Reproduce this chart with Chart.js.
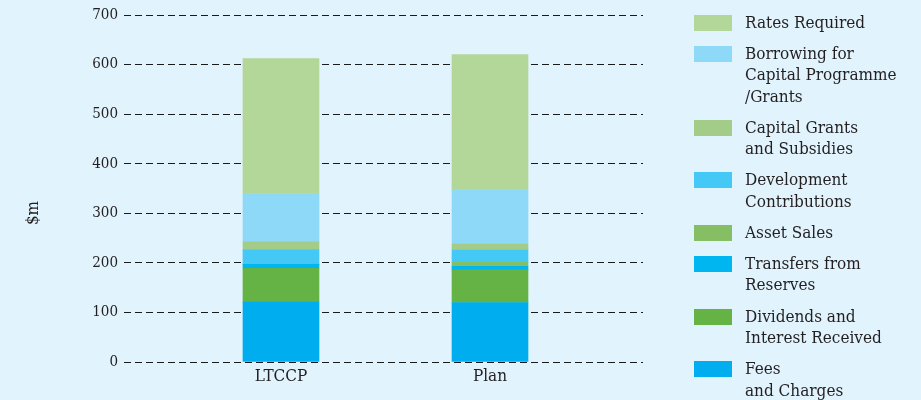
<!DOCTYPE html>
<html>
<head>
<meta charset="utf-8">
<script src="https://cdn.jsdelivr.net/npm/chart.js@4/dist/chart.umd.min.js"></script>
<style>
  html, body { margin: 0; padding: 0; background: #e1f3fd; }
  #wrap { position: relative; width: 921px; height: 400px; overflow: hidden; }
  #c { position: absolute; left: 0; top: 0; }
  #legend {
    position: absolute; left: 694px; top: 11.5px; margin: 0; padding: 0; list-style: none;
    font-family: "DejaVu Serif Condensed", "DejaVu Serif", serif;
    font-size: 17px; line-height: 21.5px; color: #231f20;
  }
  #legend li { position: relative; padding-left: 51px; margin-bottom: 9.6px; white-space: pre-line; }
  #legend .sw { position: absolute; left: 0; top: 3px; width: 38px; height: 16px; }
</style>
</head>
<body>
<div id="wrap">
  <canvas id="c" width="921" height="400"></canvas>
  <ul id="legend"></ul>
</div>
<script>
// Funding sources, $m, stacked bottom to top
const categories = ['LTCCP', 'Plan'];
const seriesNames = [
  'Fees\nand Charges',
  'Dividends and\nInterest Received',
  'Transfers from\nReserves',
  'Asset Sales',
  'Development\nContributions',
  'Capital Grants\nand Subsidies',
  'Borrowing for\nCapital Programme\n/Grants',
  'Rates Required'
];
const feesAndCharges      = [121, 120];
const dividendsInterest   = [68, 66];
const transfersReserves   = [8, 7];
const assetSales          = [1, 8];
const developmentContrib  = [29, 25];
const capitalGrants       = [16, 12];
const borrowing           = [97, 110];
const ratesRequired       = [272, 272];
const yTicks = [0, 100, 200, 300, 400, 500, 600, 700];
const yAxisTitle = '$m';

const seriesValues = [feesAndCharges, dividendsInterest, transfersReserves, assetSales,
                      developmentContrib, capitalGrants, borrowing, ratesRequired];
const seriesColors = ['#00aeef', '#65b345', '#00b6f0', '#86bf63',
                      '#44c8f5', '#a4cc89', '#8ed8f8', '#b3d699'];

const FONT = '"DejaVu Serif Condensed", "DejaVu Serif", serif';
const INK = '#231f20';
Chart.defaults.font.family = FONT;
Chart.defaults.color = INK;

const datasets = seriesValues.map((vals, i) => ({
  label: seriesNames[i],
  data: vals.map((v, j) => ({ x: j, y: v })),
  backgroundColor: seriesColors[i],
  borderWidth: 0,
  barThickness: 76
}));

// Rotated unit label on the left, a little below the plot's middle
const unitLabel = {
  id: 'unitLabel',
  afterDraw(chart) {
    const ctx = chart.ctx;
    ctx.save();
    ctx.translate(34, 213);
    ctx.rotate(-Math.PI / 2);
    ctx.font = '17px ' + FONT;
    ctx.fillStyle = INK;
    ctx.textAlign = 'center';
    ctx.textBaseline = 'middle';
    ctx.fillText(yAxisTitle, 0, 0);
    ctx.restore();
  }
};

new Chart(document.getElementById('c'), {
  type: 'bar',
  data: { datasets },
  plugins: [unitLabel],
  options: {
    responsive: false,
    animation: false,
    layout: { padding: { top: 14, right: 278, left: 0, bottom: 0 } },
    plugins: { legend: { display: false }, tooltip: { enabled: false } },
    scales: {
      x: {
        type: 'linear',
        stacked: true,
        offset: false,
        min: -0.751,
        max: 1.732,
        grid: { display: false, offset: false, drawTicks: false },
        border: { display: false },
        afterBuildTicks: s => { s.ticks = categories.map((_, i) => ({ value: i })); },
        afterFit: s => { s.height = 38; },
        ticks: {
          callback: v => categories[v],
          padding: 4,
          autoSkip: false,
          maxRotation: 0,
          font: { size: 17 },
          color: INK
        }
      },
      y: {
        stacked: true,
        min: yTicks[0],
        max: yTicks[yTicks.length - 1],
        afterBuildTicks: s => { s.ticks = yTicks.map(v => ({ value: v })); },
        afterFit: s => { s.width = 124; },
        ticks: { padding: 6, font: { size: 15 }, color: INK },
        grid: { color: '#1a1a1a', lineWidth: 1, drawTicks: false },
        border: { display: false, dash: [7, 4] },
        title: { display: false }
      }
    }
  }
});

// Legend, top of the stack first
const ul = document.getElementById('legend');
for (let i = seriesNames.length - 1; i >= 0; i--) {
  const li = document.createElement('li');
  const sw = document.createElement('span');
  sw.className = 'sw';
  sw.style.background = seriesColors[i];
  li.appendChild(sw);
  li.appendChild(document.createTextNode(seriesNames[i]));
  ul.appendChild(li);
}
</script>
</body>
</html>
